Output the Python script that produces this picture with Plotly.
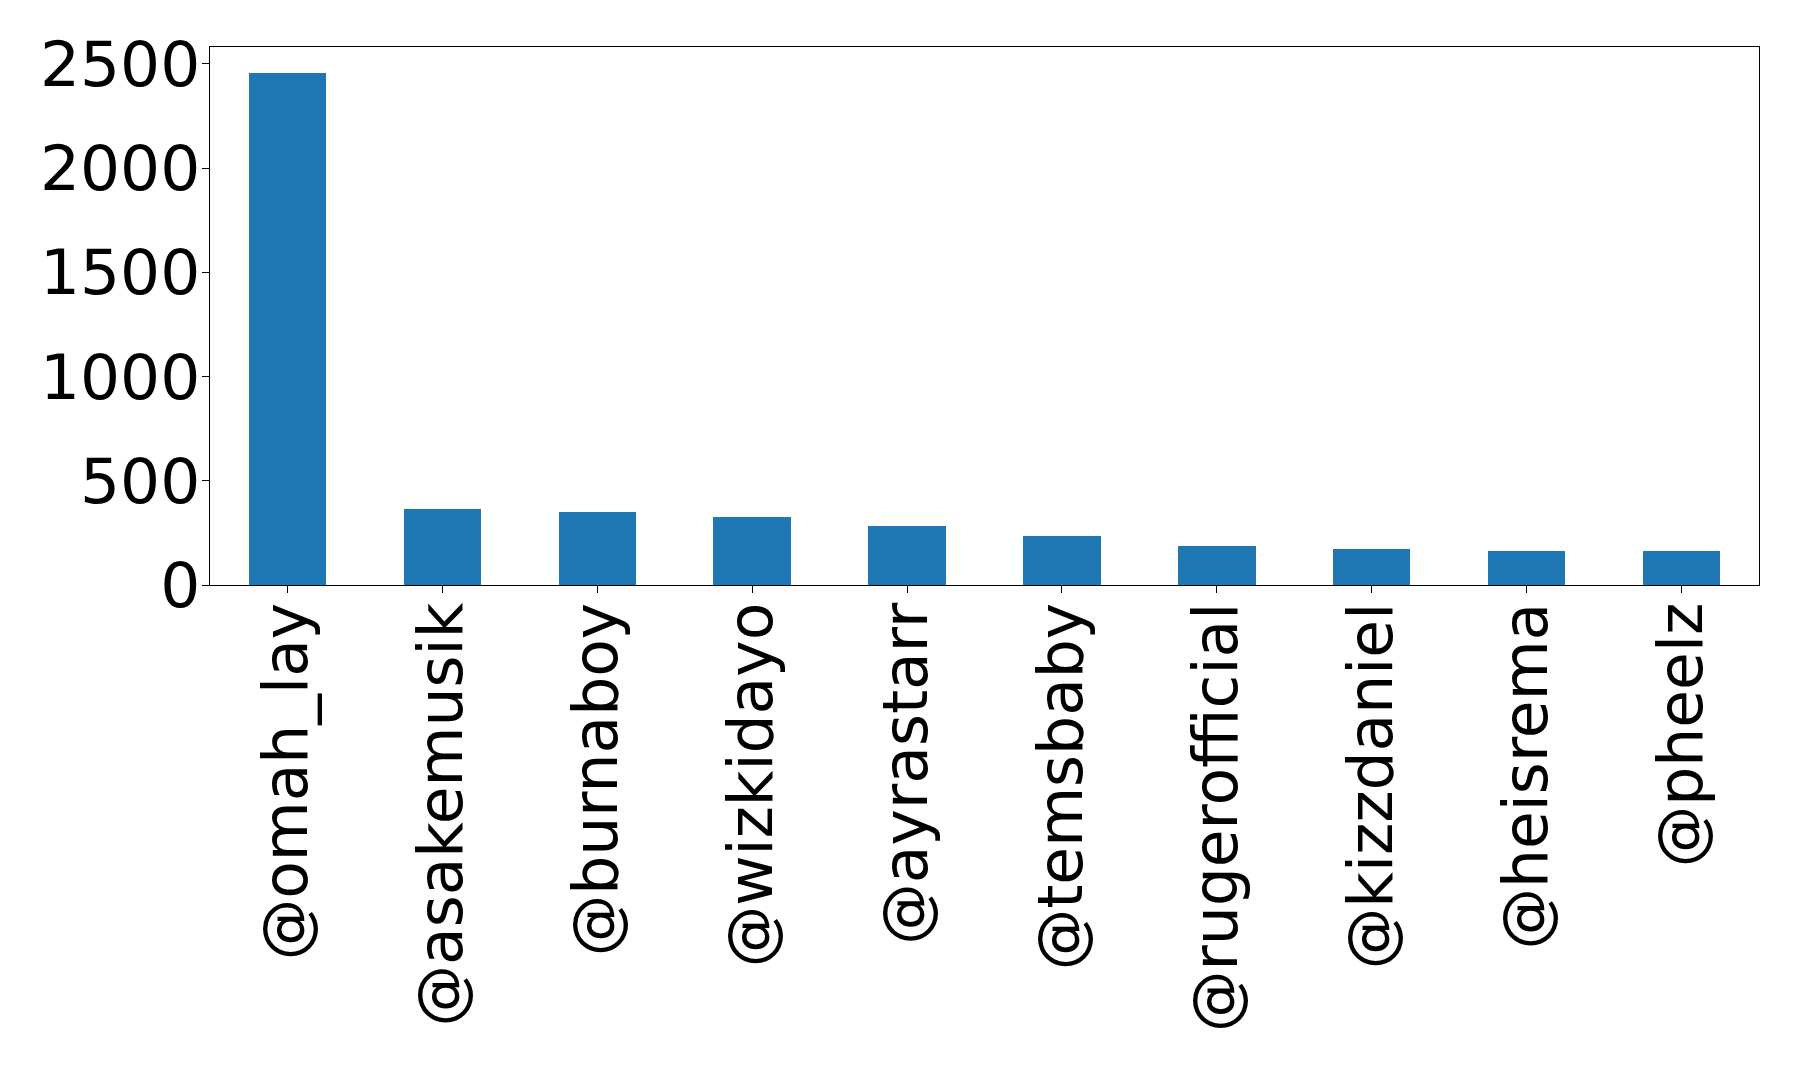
import plotly.graph_objects as go

accounts = ["@omah_lay", "@asakemusik", "@burnaboy", "@wizkidayo", "@ayrastarr",
            "@temsbaby", "@rugerofficial", "@kizzdaniel", "@heisrema", "@pheelz"]
counts = [2458, 367, 352, 324, 281, 233, 186, 171, 162, 162]
y_ticks = [0, 500, 1000, 1500, 2000, 2500]

fig = go.Figure(go.Bar(
    x=list(range(len(accounts))),
    y=counts,
    width=0.5,
    marker=dict(color="#1f77b4", line=dict(width=0)),
))

yfont = dict(family="DejaVu Sans", size=63, color="black")
xfont = dict(family="DejaVu Sans", size=61.5, color="black")
fig.update_layout(
    width=1798, height=1072,
    margin=dict(l=202, r=47, t=39, b=495),
    plot_bgcolor="white", paper_bgcolor="white",
    showlegend=False,
    bargap=0,
)
fig.update_xaxes(
    range=[-0.5, len(accounts) - 0.5],
    tickmode="array", tickvals=list(range(len(accounts))), ticktext=accounts,
    tickangle=-90, tickfont=xfont, ticklabelstandoff=-15,
    showline=True, linecolor="black", linewidth=1.3, mirror=True,
    ticks="outside", ticklen=7, tickcolor="black", tickwidth=1.3,
    showgrid=False, zeroline=False,
)
fig.update_yaxes(
    range=[0, max(counts) * 1.05],
    tickmode="array", tickvals=y_ticks, ticktext=[str(v) for v in y_ticks],
    tickfont=yfont, ticklabelstandoff=-11,
    showline=True, linecolor="black", linewidth=1.3, mirror=True,
    ticks="outside", ticklen=7, tickcolor="black", tickwidth=1.3,
    showgrid=False, zeroline=False,
)
fig.write_html("out.html")
